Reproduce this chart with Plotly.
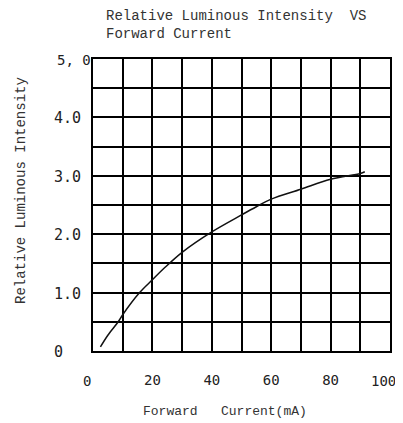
import plotly.graph_objects as go

# Data
current_ma = [2.5, 5, 8.5, 10, 15.7, 20, 24, 30, 40, 50, 55, 60, 70, 80, 90, 91.5]
rel_intensity = [0.07, 0.27, 0.5, 0.62, 1.0, 1.22, 1.42, 1.69, 2.04, 2.33, 2.47, 2.6, 2.77, 2.94, 3.04, 3.07]

x_tick_vals = [0, 10, 20, 30, 40, 50, 60, 70, 80, 90, 100]
x_tick_text = ["0", "", "20", "", "40", "", "60", "", "80", "", "100"]
y_grid_vals = [0, 0.5, 1, 1.5, 2, 2.5, 3, 3.5, 4, 4.5, 5]
y_label_vals = [0, 1, 2, 3, 4, 5]
y_label_text = ["0", "1.0", "2.0", "3.0", "4.0", "5, 0"]

OFF = 8  # browser body margin
W, H = 403, 423
PL, PR, PT, PB = 93, 390, 59, 351  # plot area in page pixels
PW, PH = PR - PL, PB - PT


def px(xp):
    return (xp - PL) / PW


def py(yp):
    return (PB - yp) / PH


fig = go.Figure()
fig.add_trace(go.Scatter(x=current_ma, y=rel_intensity, mode="lines",
                         line=dict(color="#111111", width=1.5, shape="spline"),
                         showlegend=False, hoverinfo="skip"))

mono = "Liberation Mono"
tick_font = dict(family="DejaVu Sans Mono", size=14, color="#222")
edge_vals = (x_tick_vals[0], x_tick_vals[-1])
fig.update_layout(
    width=W - OFF, height=H - OFF,
    margin=dict(l=PL - OFF, r=W - PR, t=PT - OFF, b=H - PB, autoexpand=False),
    paper_bgcolor="white", plot_bgcolor="white",
    xaxis=dict(range=[0, 100], tickvals=x_tick_vals,
               ticktext=[t if v not in edge_vals else "" for v, t in zip(x_tick_vals, x_tick_text)],
               showgrid=True, gridcolor="black", gridwidth=1.6,
               showline=True, linecolor="black", linewidth=1.6, mirror=True,
               ticks="", zeroline=False,
               tickfont=tick_font, ticklabelstandoff=15),
    yaxis=dict(range=[0, 5], tickvals=y_grid_vals, showticklabels=False,
               showgrid=True, gridcolor="black", gridwidth=1.6,
               showline=True, linecolor="black", linewidth=1.6, mirror=True,
               ticks="", zeroline=False),
)

annotations = []
# first and last x tick labels, placed as in the reference
annotations.append(dict(
    x=x_tick_vals[0], xref="x", xanchor="center", xshift=-6,
    y=py(381), yref="paper", yanchor="middle",
    text=x_tick_text[0], showarrow=False, font=tick_font))
annotations.append(dict(
    x=x_tick_vals[-1], xref="x", xanchor="right", xshift=8,
    y=py(381), yref="paper", yanchor="middle",
    text=x_tick_text[-1], showarrow=False, font=tick_font))

for v, t in zip(y_label_vals, y_label_text):
    annotations.append(dict(
        x=px(52 if t != "5, 0" else 55), xref="paper", xanchor="left",
        y=v, yref="y", yanchor="middle", yshift=-1,
        text=t, showarrow=False,
        font=dict(family="DejaVu Sans Mono", size=15 if t != "5, 0" else 14, color="#222")))

annotations.append(dict(
    x=px(104), xref="paper", xanchor="left",
    y=py(6), yref="paper", yanchor="top", align="left",
    text="Relative Luminous Intensity  VS<br>Forward Current",
    showarrow=False,
    font=dict(family=mono, size=14, color="#333")))

annotations.append(dict(
    x=px(225), xref="paper", xanchor="center",
    y=py(411), yref="paper", yanchor="middle",
    text="Forward   Current(mA)", showarrow=False,
    font=dict(family=mono, size=13, color="#333")))

annotations.append(dict(
    x=px(21), xref="paper", xanchor="center",
    y=py(191), yref="paper", yanchor="middle",
    text="Relative Luminous Intensity", textangle=-90, showarrow=False,
    font=dict(family=mono, size=14, color="#333")))

fig.update_layout(annotations=annotations)
fig.write_html("out.html")
